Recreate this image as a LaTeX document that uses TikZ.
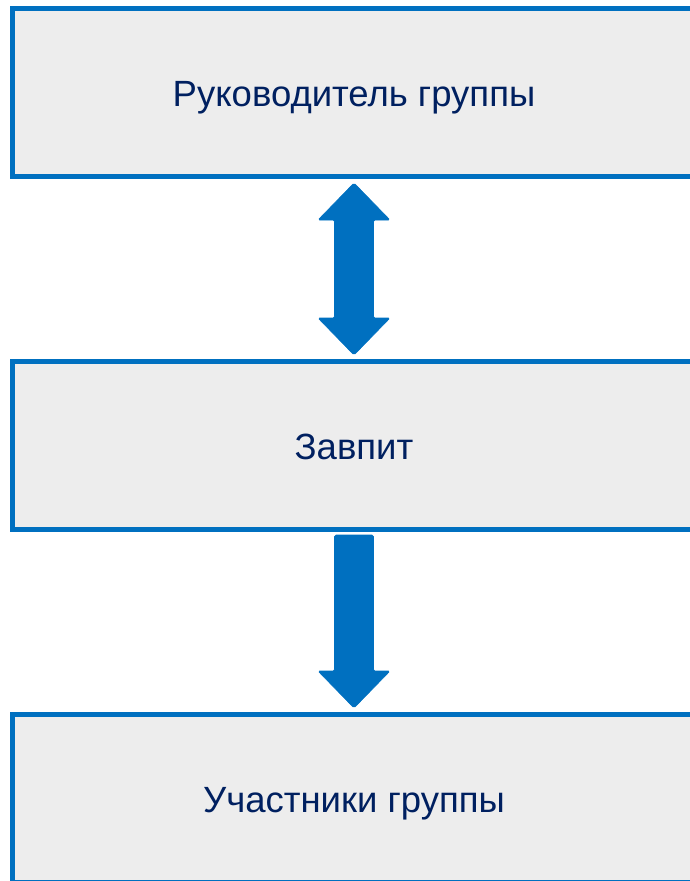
\documentclass[tikz,border=0pt]{standalone}
\usepackage{fontspec}
\setmainfont{Liberation Sans}
\usetikzlibrary{positioning, calc}

\definecolor{boxblue}{RGB}{0,112,192}
\definecolor{boxgray}{RGB}{237,237,237}
\definecolor{textnavy}{RGB}{0,32,96}

\begin{document}
\begin{tikzpicture}[x = 1pt, y = 1pt,
	level/.style = {draw = boxblue, line width = 5pt, fill = boxgray, minimum width = 683pt, minimum height = 168pt, text = textnavy, font = \fontsize{36.5}{44}\selectfont, text height = 28pt, text depth = 0pt},
	blockarrow/.style = {fill = boxblue, draw = boxblue, line width = 0.6pt, rounded corners = 1.5pt}]

	\useasboundingbox (0, 0) rectangle (690, -881);

	% Levels of the group, top to bottom

	\node [level] (lead) at (354, -92) {Руководитель группы};
	\node [level, below = 180pt of lead] (deputy) {Завпит};
	\node [level, below = 180pt of deputy] (members) {Участники группы};

	% Two-way arrow between leader and deputy

	\draw [blockarrow] let \p1 = ([yshift = -4.5pt] lead.south), \p2 = ([yshift = 3.5pt] deputy.north), \n1 = {\y1 - \y2 - 74} in
		(\p1) -- ++(36, -37) -- ++(-16.5, 0) -- ++(0, -\n1) -- ++(16.5, 0) -- (\p2) -- ++(-36, 37) -- ++(16.5, 0) -- ++(0, \n1) -- ++(-16.5, 0) -- cycle;

	% One-way arrow from deputy to members

	\draw [blockarrow] let \p1 = ([yshift = -3.5pt] deputy.south), \p2 = ([yshift = 3.5pt] members.north), \n1 = {\y1 - \y2 - 37} in
		([xshift = -19.5pt] \p1) -- ++(39, 0) -- ++(0, -\n1) -- ++(16.5, 0) -- (\p2) -- ++(-36, 37) -- ++(16.5, 0) -- cycle;

\end{tikzpicture}
\end{document}
